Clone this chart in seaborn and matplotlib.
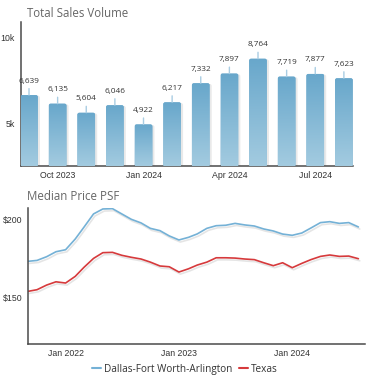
import numpy as np
import pandas as pd
import seaborn as sns
import matplotlib.pyplot as plt
import matplotlib.ticker as ticker
import matplotlib.dates as mdates
import matplotlib.patheffects as pe
from matplotlib.patches import FancyBboxPatch
from matplotlib.colors import LinearSegmentedColormap

# Total sales volume, Sep 2023 - Aug 2024
sales_months = ['Sep 2023', 'Oct 2023', 'Nov 2023', 'Dec 2023', 'Jan 2024', 'Feb 2024',
                'Mar 2024', 'Apr 2024', 'May 2024', 'Jun 2024', 'Jul 2024', 'Aug 2024']
sales_volume = [6639, 6135, 5604, 6046, 4922, 6217, 7332, 7897, 8764, 7719, 7877, 7623]
sales_tick_labels = ['Oct 2023', 'Jan 2024', 'Apr 2024', 'Jul 2024']

# Median price per sq ft, Sep 2021 - Aug 2024
price_start = '2021-09-01'
dfw_psf = [173.3, 173.9, 176.3, 179.5, 180.8, 187.7, 195.3, 203.9, 207.1, 207.3, 203.9, 200.4,
           198.1, 194.6, 193.1, 189.7, 187.1, 188.8, 191.0, 194.6, 196.3, 196.6, 197.8, 196.8,
           196.1, 194.2, 192.9, 190.9, 190.1, 191.6, 194.8, 198.3, 198.9, 197.8, 198.3, 195.5]
texas_psf = [153.9, 155.0, 158.0, 160.1, 159.3, 163.6, 169.4, 175.2, 178.9, 179.1, 177.2, 175.9,
             174.8, 172.8, 170.3, 169.8, 166.4, 168.5, 170.9, 172.8, 175.6, 175.6, 175.4, 174.8,
             174.4, 172.4, 170.5, 172.4, 169.2, 172.0, 174.4, 176.5, 177.4, 176.5, 176.7, 175.0]
markets = ['Dallas-Fort Worth-Arlington', 'Texas']
market_colors = {'Dallas-Fort Worth-Arlington': '#74b1d6', 'Texas': '#d63a3c'}

sns.set_style('white')
plt.rcParams.update({
    'font.family': ['Liberation Sans', 'DejaVu Sans'],
    'axes.edgecolor': '#4a4a4a',
    'axes.linewidth': 1.1,
    'xtick.color': '#4a4a4a',
    'ytick.color': '#4a4a4a',
    'xtick.labelcolor': '#333333',
    'ytick.labelcolor': '#333333',
})

fig = plt.figure(figsize=(3.73, 3.83), dpi=100)

# ---- Total Sales Volume ----
ax1 = fig.add_axes([0.0555, 0.567, 0.891, 0.375])
sales_df = pd.DataFrame({'month': sales_months, 'volume': sales_volume})
sns.barplot(data=sales_df, x='month', y='volume', color='#6aa8cb', width=0.62, ax=ax1)

y_bottom, y_top = 2500, 10900
grad_cmap = LinearSegmentedColormap.from_list('bar', ['#a3cbe0', '#68a7cb'])
grad = np.linspace(0, 1, 256).reshape(-1, 1)
for rect in list(ax1.patches):
    x0, w, h = rect.get_x(), rect.get_width(), rect.get_height()
    rect.set_visible(False)
    box = FancyBboxPatch((x0, 0), w, h, boxstyle='round,pad=0,rounding_size=0.07',
                         mutation_aspect=1650, facecolor='#86b8d5', edgecolor='none',
                         path_effects=[pe.SimplePatchShadow(offset=(1.5, -0.5), shadow_rgbFace='#aaaaaa', alpha=0.25),
                                       pe.Normal()], zorder=2)
    ax1.add_patch(box)
    im = ax1.imshow(grad, extent=[x0, x0 + w, y_bottom, h], origin='lower', aspect='auto',
                    cmap=grad_cmap, zorder=3)
    im.set_clip_path(box)
    ax1.annotate(f'{h:,.0f}', xy=(x0 + w / 2, h), xytext=(0, 7.5), textcoords='offset points',
                 ha='center', va='bottom', fontsize=5.9, color='#333333', family='Open Sans',
                 arrowprops=dict(arrowstyle='-', color='#a9cde3', lw=1.0, shrinkA=0.5, shrinkB=0),
                 zorder=4)

ax1.set_xlim(-0.29, 11.32)
ax1.set_ylim(y_bottom, y_top)
ax1.set_xticks([1, 4, 7, 10], sales_tick_labels)
ax1.set_yticks([5000, 10000])
ax1.yaxis.set_major_formatter(ticker.FuncFormatter(lambda v, p: f'{int(v / 1000)}k'))
ax1.set_xlabel('')
ax1.set_ylabel('')
sns.despine(ax=ax1)
ax1.tick_params(direction='inout', length=3, width=1, labelsize=6.3, pad=2.5)
fig.text(0.072, 0.966, 'Total Sales Volume', fontsize=8.3, color='#666666',
         family='Open Sans', ha='left', va='center')

# ---- Median Price PSF ----
ax2 = fig.add_axes([0.0743, 0.102, 0.904, 0.354])
months = pd.date_range(price_start, periods=len(dfw_psf), freq='MS')
price_df = pd.DataFrame({
    'month': list(months) * 2,
    'psf': dfw_psf + texas_psf,
    'market': [markets[0]] * len(dfw_psf) + [markets[1]] * len(texas_psf),
})
sns.lineplot(data=price_df, x='month', y='psf', hue='market', palette=market_colors,
             linewidth=1.2, legend=False, ax=ax2)
for line in ax2.get_lines():
    line.set_path_effects([pe.SimpleLineShadow(offset=(1, -1.5), shadow_color='#aaaaaa', alpha=0.3),
                           pe.Normal()])

ax2.set_xlim(pd.Timestamp('2021-09-01'), pd.Timestamp('2024-08-22'))
ax2.set_ylim(120, 207.5)
ax2.set_xticks(pd.to_datetime(['2022-01-01', '2023-01-01', '2024-01-01']))
ax2.xaxis.set_major_formatter(mdates.DateFormatter('%b %Y'))
ax2.set_yticks([150, 200])
ax2.yaxis.set_major_formatter(ticker.FuncFormatter(lambda v, p: f'${int(v)}'))
ax2.set_xlabel('')
ax2.set_ylabel('')
sns.despine(ax=ax2)
ax2.tick_params(direction='inout', length=3, width=1, labelsize=6.3, pad=2.5)
fig.text(0.072, 0.486, 'Median Price PSF', fontsize=8.3, color='#666666',
         family='Open Sans', ha='left', va='center')

handles = [plt.Line2D([], [], color=market_colors[m], lw=1.5) for m in markets]
fig.legend(handles, markets, loc='center', bbox_to_anchor=(0.496, 0.036), ncol=2,
           frameon=False, handlelength=0.9, handletextpad=0.3, columnspacing=0.6,
           prop={'family': 'Open Sans', 'size': 7.2}, labelcolor='#333333')

fig.savefig('out.png', dpi=100)
